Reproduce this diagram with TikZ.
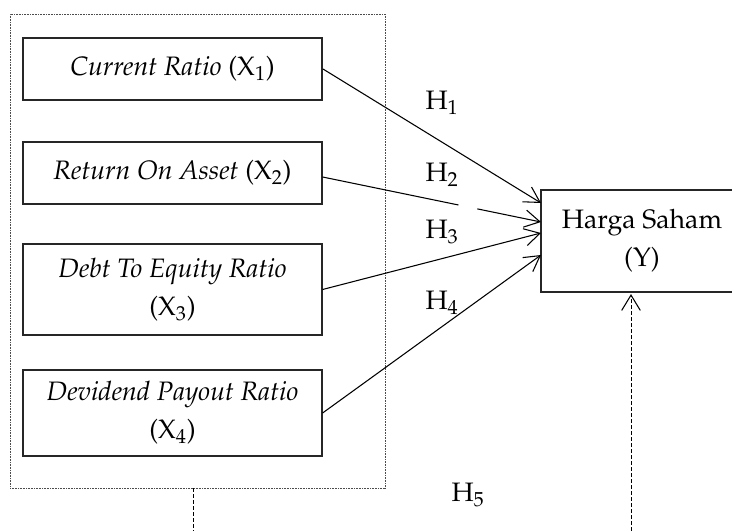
\documentclass[tikz,border=0pt]{standalone}
\usepackage[T1]{fontenc}
\usepackage{mathpazo}
\usetikzlibrary{arrows.meta}
\newcommand\pxu{0.75pt}
\begin{document}
\begin{tikzpicture}[x=0.75pt,y=-0.75pt,
  every node/.style={font=\fontsize{20}{28.5}\selectfont, inner sep=0pt},
  varbox/.style={draw=black!85, line width=0.9pt, minimum width={299*\pxu}, align=center},
  grpbox/.style={draw=black!70, line width=0.6pt, dash pattern=on 0.6pt off 0.6pt,
     minimum width={375*\pxu}, minimum height={474*\pxu}},
  ybox/.style={draw=black!85, line width=0.9pt, minimum width={202*\pxu}, minimum height={102*\pxu}, align=center},
  link/.style={line width=0.8pt, -{Straight Barb[length=11.5pt,width=13pt,line width=0.8pt]}},
  dashlink/.style={line width=0.75pt, dash pattern=on 3pt off 1.5pt},
  hlab/.style={}]
\useasboundingbox (0,0) rectangle (732,531);
\node[grpbox] (grp) at (197.5,251) {};
\node[varbox, line width=1.5pt, minimum height={62*\pxu}] (b1) at (172.5,69) {\textit{Current Ratio} (X\textsubscript{1})};
\node[varbox, minimum height={62*\pxu}] (b2) at (172.5,173) {\textit{Return On Asset} (X\textsubscript{2})};
\node[varbox, minimum height={91*\pxu}] (b3) at (172.5,289.5) {\textit{Debt To Equity Ratio}\\(X\textsubscript{3})};
\node[varbox, minimum height={86*\pxu}] (b4) at (172.5,413) {\textit{Devidend Payout Ratio}\\(X\textsubscript{4})};
\node[ybox] (Y) at (642,241) {Harga Saham\\(Y)};
\coordinate (t1) at (541,203);
\coordinate (t2) at (541,222);
\coordinate (t3) at (541,233);
\coordinate (t4) at (541,255);
\draw[link] (b1.east) -- (t1);
\draw[link, dash pattern=on 104pt off 14.5pt on 80pt] ([yshift={-4*\pxu}]b2.east) -- (t2);
\draw[link] (b3.east) -- (t3);
\draw[link] (b4.east) -- (t4);
\node[hlab] (h1) at (442,103) {H\textsubscript{1}};
\node[hlab] (h2) at (442,175) {H\textsubscript{2}};
\node[hlab] (h3) at (442,232) {H\textsubscript{3}};
\node[hlab] (h4) at (442,303) {H\textsubscript{4}};
\node[hlab] (h5) at (468,495) {H\textsubscript{5}};
\coordinate (e1) at (193,531);
\coordinate (e2) at (631,531);
\draw[dashlink] (grp.south -| e1) -- (e1);
\draw[dashlink, -{Straight Barb[length=11.5pt,width=14pt,line width=0.8pt,sep]}] (e2) -- (Y.south -| e2);
\end{tikzpicture}
\end{document}
